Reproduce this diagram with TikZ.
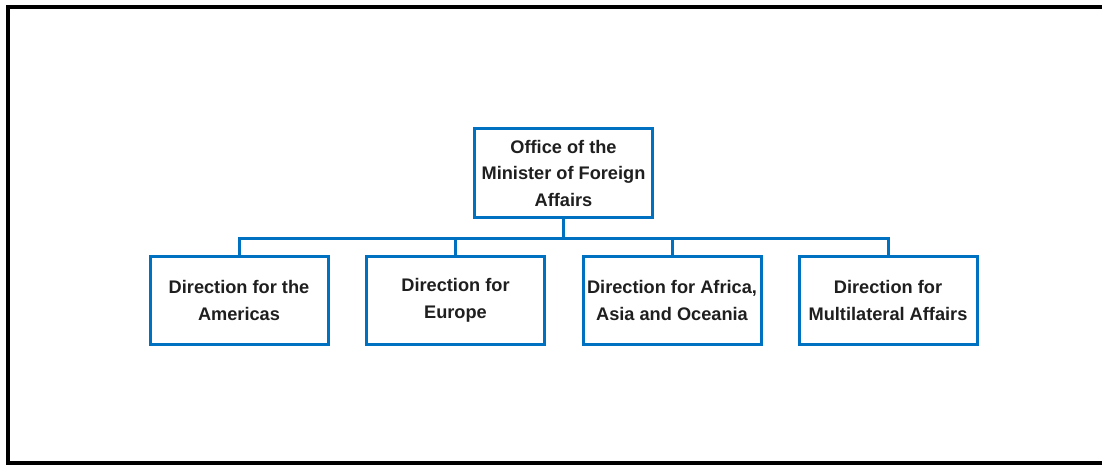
\documentclass[tikz,border=0pt]{standalone}
\usepackage{fontspec}
\setmainfont{Liberation Sans}[Ligatures=NoCommon]
\definecolor{orgblue}{HTML}{0070C0}
\begin{document}
\begin{tikzpicture}[x=1pt,y=-1pt,
  unit/.style={draw=orgblue, line width=3pt, fill=white, minimum width=178pt,
    minimum height=88pt, align=center, inner sep=0pt,
    font=\fontsize{18.2}{26.5}\selectfont\bfseries, text=black!88},
  link/.style={draw=orgblue, line width=3pt}]
\useasboundingbox (0,0) rectangle (1102,464);
\begin{scope}
\clip (0,0) rectangle (1102,464);
\draw[line width=4pt] (8,7) rectangle (1110,462.5);
\end{scope}
% top office
\node[unit, minimum height=89pt] (office) at (563.5,173) {Office of the\\Minister of Foreign\\Affairs};
% directions
\node[unit] (amer) at (239,300.5) {Direction for the\\Americas};
\node[unit] (eur) at (455.5,300.5) {Direction for\\Europe};
\node[unit] (afr) at (672,300.5) {Direction for Africa,\\Asia and Oceania};
\node[unit] (multi) at (888,300.5) {Direction for\\Multilateral Affairs};
% bus connectors
\coordinate (bus) at (563.5,238);
\draw[link] (office.south) -- (bus);
\draw[link] (amer.north) |- (bus) -| (multi.north);
\draw[link] (eur.north) -- (eur.north |- bus);
\draw[link] (afr.north) -- (afr.north |- bus);
\end{tikzpicture}
\end{document}
